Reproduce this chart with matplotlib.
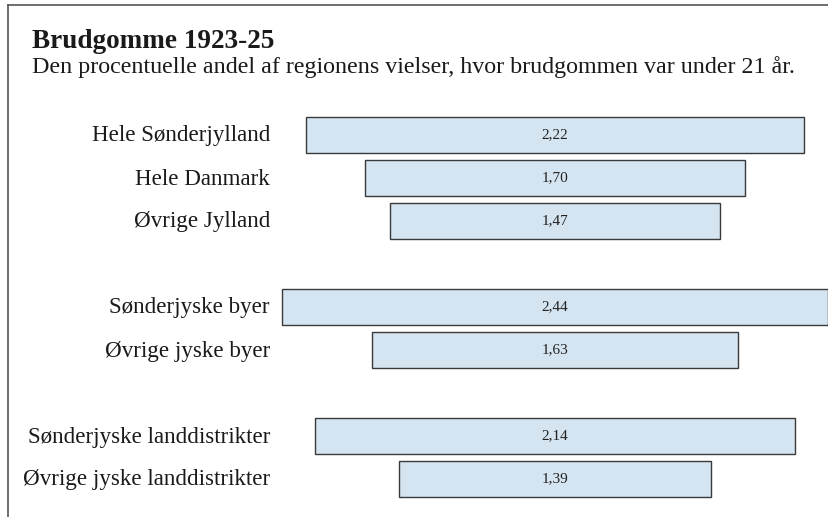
import matplotlib.pyplot as plt
from matplotlib.lines import Line2D

categories = ["Hele Sønderjylland", "Hele Danmark", "Øvrige Jylland",
              "Sønderjyske byer", "Øvrige jyske byer",
              "Sønderjyske landdistrikter", "Øvrige jyske landdistrikter"]
values = [2.22, 1.70, 1.47, 2.44, 1.63, 2.14, 1.39]
# row slots (3 and 6 are left empty as group spacers)
rows = [0, 1, 2, 4, 5, 7, 8]

W, H = 829, 517
plt.rcParams['font.family'] = ['Liberation Serif', 'DejaVu Serif']

fig = plt.figure(figsize=(W / 100, H / 100), dpi=100)
ax = fig.add_axes([0, 0, 1, 1])
ax.set_axis_off()

px_per_unit = 224
cx = 555
ax.set_xlim(-cx / px_per_unit, (W - cx) / px_per_unit)
ax.set_ylim((H - 135) / 43, -135 / 43)

lefts = [-v / 2 for v in values]
ax.barh(rows, values, left=lefts, height=0.86, color='#d4e4f0',
        edgecolor='#3a3a3a', linewidth=1.0)

for r, v, name in zip(rows, values, categories):
    ax.text(0, r, f"{v:.2f}".replace('.', ','), ha='center', va='center',
            fontsize=11, color='#222222')
    fig.text(270 / W, 1 - (136 + 43 * r) / H, name, ha='right', va='center',
             fontsize=16.6, color='#1a1a1a')

fig.text(32 / W, 1 - 48 / H, "Brudgomme 1923-25", fontsize=19.6,
         fontweight='bold', color='#1a1a1a', va='baseline')
fig.text(32 / W, 1 - 73 / H,
         "Den procentuelle andel af regionens vielser, hvor brudgommen var under 21 år.",
         fontsize=17.3, color='#1a1a1a', va='baseline')

# outer frame (left and top edges visible)
fig.add_artist(Line2D([8 / W, 8 / W], [0, 1 - 5 / H], color='#555555', lw=1.2))
fig.add_artist(Line2D([8 / W, 1], [1 - 5 / H, 1 - 5 / H], color='#555555', lw=1.2))

fig.savefig('out.png', dpi=100)
